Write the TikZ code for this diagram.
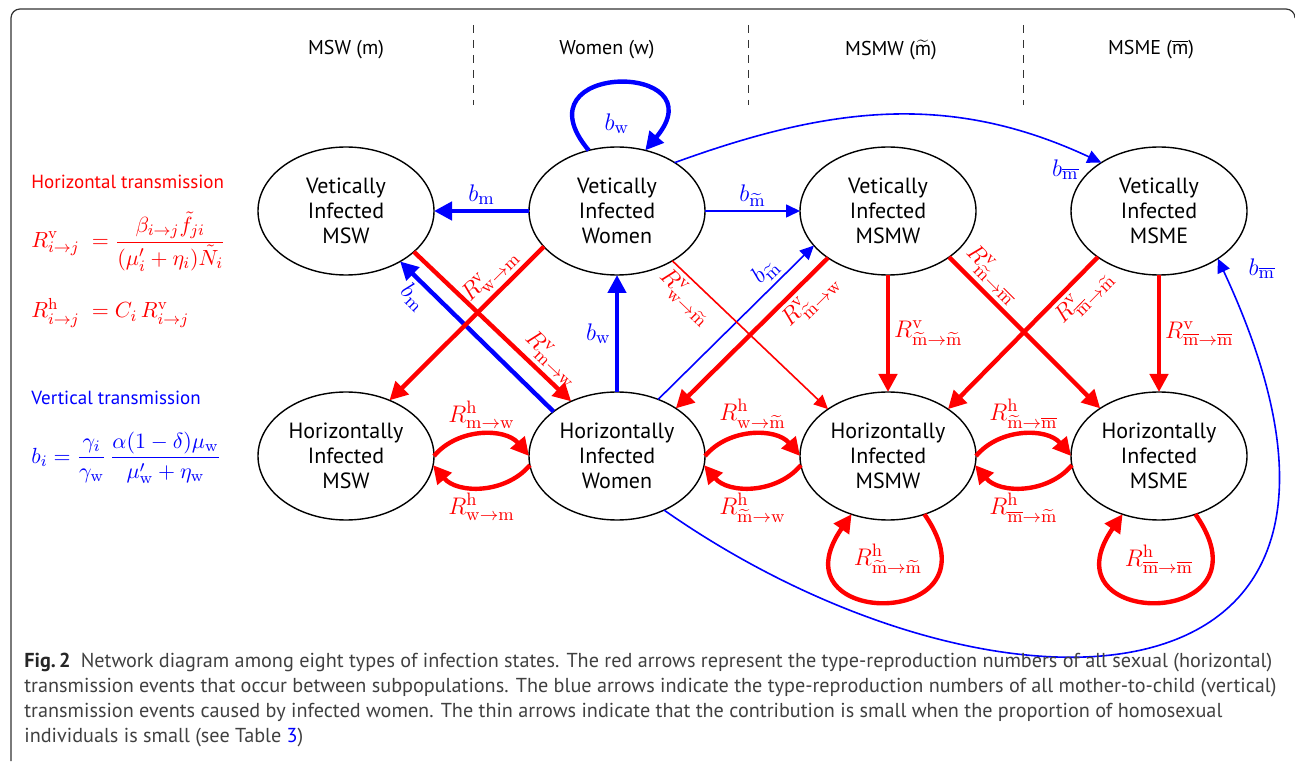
\documentclass[tikz,border=0pt]{standalone}
\usepackage{amsmath}
\usepackage[no-math]{fontspec}
\setmainfont{PT Sans}
\usetikzlibrary{arrows.meta,positioning,shapes.geometric}
\DeclareMathSizes{12}{12}{9}{7}
\DeclareMathSizes{11}{11}{8.5}{6.5}
\definecolor{hred}{HTML}{FF0000}
\definecolor{vblue}{HTML}{0000FF}
\definecolor{framegray}{HTML}{333333}
\definecolor{capgray}{HTML}{404040}
\newcommand{\mtil}{\widetilde{\mathrm{m}}}
\newcommand{\mbar}{\overline{\mathrm{m}}}
\newcommand{\Rv}[2]{$R^{\mathrm{v}}_{\mathrm{#1}\to\mathrm{#2}}$}
\newcommand{\Rh}[2]{$R^{\mathrm{h}}_{\mathrm{#1}\to\mathrm{#2}}$}

\begin{document}
\begin{tikzpicture}[x=0.5pt, y=0.5pt,
  font=\fontsize{11}{12.5}\selectfont,
  infstate/.style={draw, ellipse, line width=0.7pt, inner sep=0pt, outer sep=0pt, minimum width=88pt, minimum height=64pt, align=center},
  harr/.style={-{Triangle[length=9pt,width=9pt]}, hred, line width=2.2pt},
  harrthin/.style={-{Triangle[length=7pt,width=6.5pt]}, hred, line width=0.8pt},
  varr/.style={-{Triangle[length=9pt,width=9pt]}, vblue, line width=2.2pt},
  varrthin/.style={-{Triangle[length=7pt,width=6.5pt]}, vblue, line width=0.8pt},
  rlab/.style={text=hred, font=\fontsize{12}{14}\selectfont, inner sep=2pt},
  blab/.style={text=vblue, font=\fontsize{12}{14}\selectfont, inner sep=2pt},
  colhead/.style={font=\fontsize{10}{12}\selectfont},
  colsep/.style={framegray, line width=0.5pt, dash pattern=on 4pt off 3.5pt},
  formula/.style={anchor=west, inner sep=0pt, font=\fontsize{11}{13}\selectfont}
]
\useasboundingbox (0,0) rectangle (1295,761);
\draw[framegray, line width=0.6pt] (11,0) -- (11,743) arc[start angle=180, end angle=90, radius=9] -- (1286,752) arc[start angle=90, end angle=0, radius=9];

% column heads
\node[colhead] (hm) at (346,711) {MSW (m)};
\node[colhead] (hw) at (607,711) {Women (w)};
\node[colhead] (ht) at (891,711) {MSMW (\(\widetilde{\text{m}}\))};
\node[colhead] (hb) at (1151,711) {MSME (\(\overline{\text{m}}\))};
\foreach \x in {473,748,1023}
  \draw[colsep] (\x,736) -- (\x,656);

% legend
\node[anchor=west, text=hred, inner sep=0pt, font=\fontsize{9.5}{12}\selectfont] (htitle) at (31,579) {Horizontal transmission};
\node[formula, text=hred] (hform1) at (31,519) {$\displaystyle R^{\mathrm{v}}_{i\to j}\;=\frac{\beta_{i\to j}\tilde{f}_{ji}}{(\mu'_i+\eta_i)\tilde{N}_i}$};
\node[formula, text=hred] (hform2) at (31,448) {$R^{\mathrm{h}}_{i\to j}\;=C_i\,R^{\mathrm{v}}_{i\to j}$};
\node[anchor=west, text=vblue, inner sep=0pt, font=\fontsize{9.5}{12}\selectfont] (vtitle) at (31,363) {Vertical transmission};
\node[formula, text=vblue] (vform) at (31,303) {$\displaystyle b_i=\frac{\gamma_i}{\gamma_{\mathrm{w}}}\,\frac{\alpha(1-\delta)\mu_{\mathrm{w}}}{\mu'_{\mathrm{w}}+\eta_{\mathrm{w}}}$};

% infection states
\node[infstate] (mswV) at (346,550) {Vetically\\Infected\\MSW};
\node[infstate, right=47.5pt of mswV] (womV) {Vetically\\Infected\\Women};
\node[infstate, right=47.5pt of womV] (msmwV) {Vetically\\Infected\\MSMW};
\node[infstate, right=47.5pt of msmwV] (msmeV) {Vetically\\Infected\\MSME};
\node[infstate, below=58.5pt of mswV] (mswH) {Horizontally\\Infected\\MSW};
\node[infstate, below=58.5pt of womV] (womH) {Horizontally\\Infected\\Women};
\node[infstate, below=58.5pt of msmwV] (msmwH) {Horizontally\\Infected\\MSMW};
\node[infstate, below=58.5pt of msmeV] (msmeH) {Horizontally\\Infected\\MSME};

% vertical transmission
\draw[varr] (womV) -- node[blab, above] {$b_{\mathrm{m}}$} (mswV);
\draw[varrthin] (womV) -- node[blab, above] {$b_{\mtil}$} (msmwV);
\draw[varr] (womH) -- node[blab, left] {$b_{\mathrm{w}}$} (womV);
\draw[varr] (womH.145) -- node[blab, pos=0.84, sloped, below] {$b_{\mathrm{m}}$} (mswV.-43);
\draw[varrthin] (womH.54) -- node[blab, pos=0.76, sloped, above] {$b_{\mtil}$} (msmwV.-155);
\draw[varr] (womV.115) to[out=130, in=50, looseness=5.3] node[blab, below=12pt] {$b_{\mathrm{w}}$} (womV.65);
\draw[varrthin] (womV.40) to[out=20, in=155] node[blab, pos=0.96, below left] {$b_{\mbar}$} (msmeV.140);
\draw[varrthin] (womH.-49) .. controls +(-35:400) and +(-65:520) .. node[blab, pos=1, right=13pt, yshift=-5pt] {$b_{\mbar}$} (msmeV.-39);

% horizontal transmission
\draw[harr] (mswV.-31) -- node[rlab, pos=0.8, sloped, above] {\Rv{m}{w}} (womH.130);
\draw[harr] (womV.-154) -- node[rlab, pos=0.27, sloped, above] {\Rv{w}{m}} (mswH.52);
\draw[harrthin] (womV.-42) -- node[rlab, pos=0.16, sloped, below] {\Rv{w}{\mtil}} (msmwH.142);
\draw[harr] (msmwV.-142) -- node[rlab, pos=0.2, sloped, below] {\Rv{\mtil}{w}} (womH.39);
\draw[harr] (msmwV.-37) -- node[rlab, pos=0.2, sloped, above] {\Rv{\mtil}{\mbar}} (msmeH.141);
\draw[harr] (msmeV.-143) -- node[rlab, pos=0.18, sloped, below] {\Rv{\mbar}{\mtil}} (msmwH.38);
\draw[harr] (msmwV) -- node[rlab, right] {\Rv{\mtil}{\mtil}} (msmwH);
\draw[harr] (msmeV) -- node[rlab, right] {\Rv{\mbar}{\mbar}} (msmeH);

\draw[harr] (mswH.east) to[bend left=50] node[rlab, above] {\Rh{m}{w}} (womH.west);
\draw[harr] (womH.186) to[bend left=50] node[rlab, below] {\Rh{w}{m}} (mswH.-6);
\draw[harr] (womH.east) to[bend left=50] node[rlab, above] {\Rh{w}{\mtil}} (msmwH.west);
\draw[harr] (msmwH.186) to[bend left=50] node[rlab, below] {\Rh{\mtil}{w}} (womH.-6);
\draw[harr] (msmwH.east) to[bend left=50] node[rlab, above] {\Rh{\mtil}{\mbar}} (msmeH.west);
\draw[harr] (msmeH.186) to[bend left=50] node[rlab, below] {\Rh{\mbar}{\mtil}} (msmwH.-6);
\draw[harr] (msmwH.-58) to[out=-55, in=-125, looseness=5] node[rlab, above=11pt] {\Rh{\mtil}{\mtil}} (msmwH.-122);
\draw[harr] (msmeH.-58) to[out=-55, in=-125, looseness=5] node[rlab, above=11pt] {\Rh{\mbar}{\mbar}} (msmeH.-122);

% caption
\node[anchor=north west, align=left, text=capgray, inner sep=0pt, font=\fontsize{10.1}{12.5}\selectfont] (cap) at (24,108)
  {\textbf{\color{black!85}Fig.\,2}\enspace Network diagram among eight types of infection states. The red arrows represent the type-reproduction numbers of all sexual (horizontal)\\
   transmission events that occur between subpopulations. The blue arrows indicate the type-reproduction numbers of all mother-to-child (vertical)\\
   transmission events caused by infected women. The thin arrows indicate that the contribution is small when the proportion of homosexual\\
   individuals is small (see Table {\color{vblue}3})};
\end{tikzpicture}
\end{document}
